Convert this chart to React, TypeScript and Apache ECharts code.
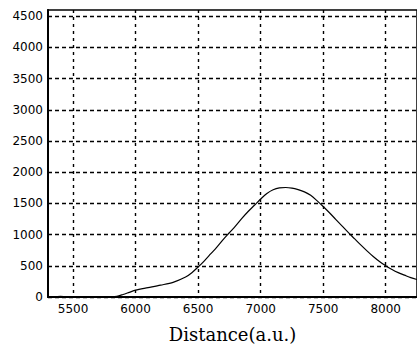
import React, { useEffect, useRef } from "react";
import * as echarts from "echarts";

const distance = [
  5300, 5350, 5400, 5450, 5500, 5550, 5600, 5650, 5700, 5750, 5800, 5850, 5900, 5950,
  6000, 6100, 6200, 6300, 6400, 6450, 6500, 6550, 6600, 6650, 6700, 6750, 6800, 6850,
  6900, 6950, 7000, 7050, 7100, 7150, 7200, 7250, 7300, 7350, 7400, 7450, 7500, 7550,
  7600, 7650, 7700, 7750, 7800, 7850, 7900, 7950, 8000, 8050, 8100, 8150, 8200, 8250,
];
const intensity = [
  8, 4, 10, 3, 6, 2, 5, 3, 4, 2, 3, 10, 40, 75,
  110, 150, 190, 235, 320, 390, 480, 580, 690, 800, 920, 1030, 1140, 1260,
  1370, 1470, 1570, 1660, 1720, 1750, 1755, 1745, 1720, 1685, 1630, 1545, 1450, 1350,
  1245, 1140, 1035, 935, 835, 740, 650, 570, 500, 440, 390, 350, 310, 280,
];
const xTicks = [5500, 6000, 6500, 7000, 7500, 8000];
const yTicks = [0, 500, 1000, 1500, 2000, 2500, 3000, 3500, 4000, 4500];
const xTitle = "Distance(a.u.)";

export default function App() {
  const ref = useRef<HTMLDivElement>(null);
  useEffect(() => {
    document.body.style.margin = "0";
    if (!ref.current) return;
    const chart = echarts.init(ref.current, null, { renderer: "svg" });
    chart.setOption({
      animation: false,
      backgroundColor: "#fff",
      grid: {
        left: 48,
        right: -2,
        top: 10,
        bottom: 46,
        show: true,
        borderColor: "#000",
        borderWidth: 1.5,
      },
      xAxis: {
        type: "value",
        min: 5300,
        max: 8250,
        name: xTitle,
        nameLocation: "middle",
        nameGap: 28,
        nameTextStyle: { fontFamily: "DejaVu Serif", fontSize: 18, color: "#000" },
        axisLine: { show: true, onZero: false, lineStyle: { color: "#000", width: 2 } },
        axisTick: { show: false, customValues: xTicks },
        axisLabel: {
          customValues: xTicks,
          formatter: (v: number) => String(v),
          fontFamily: "DejaVu Sans",
          fontSize: 12,
          color: "#000",
          margin: 6,
        },
        splitLine: { show: true, lineStyle: { color: "#000", width: 1.4, type: [3, 4] } },
      },
      yAxis: {
        type: "value",
        min: 0,
        max: 4600,
        axisLine: { show: true, lineStyle: { color: "#000", width: 2 } },
        axisTick: { show: false, customValues: yTicks },
        axisLabel: {
          customValues: yTicks,
          formatter: (v: number) => String(v),
          fontFamily: "DejaVu Sans",
          fontSize: 12,
          color: "#000",
          margin: 5,
        },
        splitLine: { show: true, lineStyle: { color: "#000", width: 1.4, type: [4, 3] } },
      },
      series: [
        {
          type: "line",
          data: distance.map((d, i) => [d, intensity[i]]),
          smooth: 0.3,
          showSymbol: false,
          lineStyle: { color: "#000", width: 1.2 },
        },
      ],
    });
    return () => chart.dispose();
  }, []);
  return <div ref={ref} style={{ width: 417, height: 348 }} />;
}
